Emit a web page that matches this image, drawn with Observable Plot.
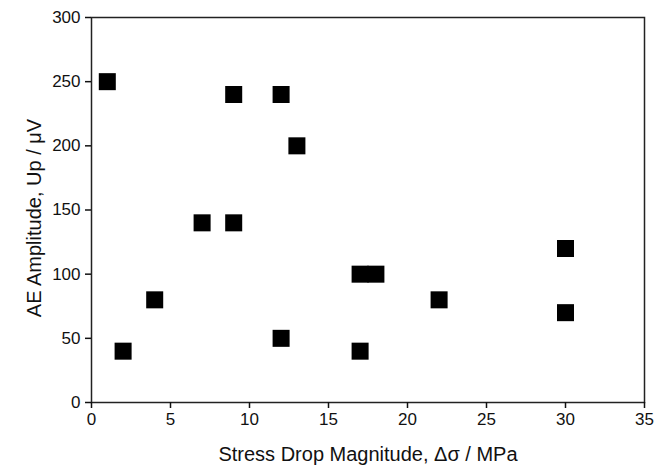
<!DOCTYPE html>
<html>
<head>
<meta charset="utf-8">
<script src="https://cdn.jsdelivr.net/npm/d3@7"></script>
<script src="https://cdn.jsdelivr.net/npm/@observablehq/plot@0.6"></script>
<style>
  html, body { margin: 0; padding: 0; background: #fff; }
</style>
</head>
<body>
<div id="chart"></div>
<script>
const stressDrop = [1, 2, 4, 7, 9, 9, 12, 12, 13, 17, 18, 17, 22, 30, 30];
const amplitude  = [250, 40, 80, 140, 140, 240, 240, 50, 200, 100, 100, 40, 80, 120, 70];
const xTicks = [0, 5, 10, 15, 20, 25, 30, 35];
const yTicks = [0, 50, 100, 150, 200, 250, 300];
const xLabel = "Stress Drop Magnitude, Δσ / MPa";
const yLabel = "AE Amplitude, Up / μV";

const data = stressDrop.map((x, i) => ({x, y: amplitude[i]}));

const chart = Plot.plot({
  width: 666,
  height: 465,
  marginLeft: 91,
  marginRight: 22,
  marginTop: 17,
  marginBottom: 63,
  style: {fontFamily: "'Liberation Sans', Arial, sans-serif", fontSize: "17px", color: "#111", background: "#fff"},
  x: {domain: [0, 35]},
  y: {domain: [0, 300]},
  marks: [
    Plot.frame({stroke: "#222", strokeWidth: 1.5}),
    Plot.axisX({ticks: xTicks, tickSize: 6, tickPadding: 4, strokeWidth: 1.5, fontSize: 17, label: null}),
    Plot.axisY({ticks: yTicks, tickSize: 6, tickPadding: 5, strokeWidth: 1.5, fontSize: 17, label: null}),
    Plot.axisX({ticks: [], tickSize: 0, label: xLabel, labelAnchor: "center", labelArrow: "none", labelOffset: 58, fontSize: 20}),
    Plot.axisY({ticks: [], tickSize: 0, label: yLabel, labelAnchor: "center", labelArrow: "none", labelOffset: 65, fontSize: 20}),
    Plot.dot(data, {x: "x", y: "y", symbol: "square", r: 9.6, fill: "#000", stroke: "none"})
  ]
});
d3.select(chart).selectAll('g[aria-label="y-axis label"]').attr("transform", function() {
  return "translate(0,8) " + (this.getAttribute("transform") || "");
});
document.getElementById("chart").appendChild(chart);
</script>
</body>
</html>
